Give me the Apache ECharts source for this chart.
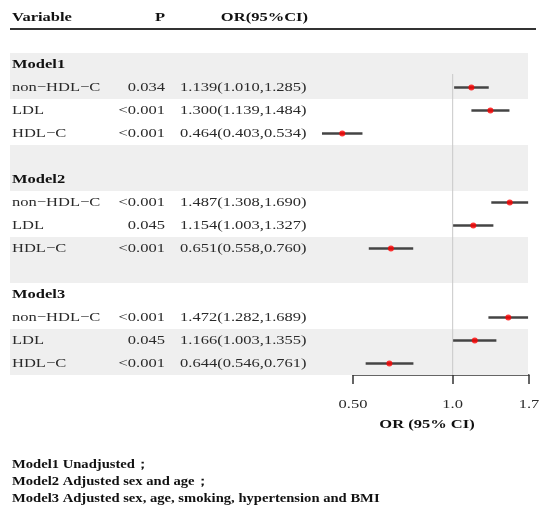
<!DOCTYPE html>
<html>
<head>
<meta charset="utf-8">
<script src="https://cdn.jsdelivr.net/npm/echarts@6/dist/echarts.min.js"></script>
<style>
html,body{margin:0;padding:0;background:#fff;}
#chart{width:541px;height:511px;}
</style>
</head>
<body>
<div id="chart"></div>
<script>
// ---- data ----
const models = ['Model1', 'Model2', 'Model3'];
const variables = ['non\u2212HDL\u2212C', 'LDL', 'HDL\u2212C'];
const pValues = [
  ['0.034', '<0.001', '<0.001'],
  ['<0.001', '0.045', '<0.001'],
  ['<0.001', '0.045', '<0.001']
];
const orValues = [
  [1.139, 1.300, 0.464],
  [1.487, 1.154, 0.651],
  [1.472, 1.166, 0.644]
];
const ciLower = [
  [1.010, 1.139, 0.403],
  [1.308, 1.003, 0.558],
  [1.282, 1.003, 0.546]
];
const ciUpper = [
  [1.285, 1.484, 0.534],
  [1.690, 1.327, 0.760],
  [1.689, 1.355, 0.761]
];
const tickValues = [0.5, 1.0, 1.7];
const tickLabels = ['0.50', '1.0', '1.7'];
const headers = ['Variable', 'P', 'OR(95%CI)'];
const footnotes = [
  'Model1 Unadjusted\uff1b',
  'Model2 Adjusted sex and age\uff1b',
  'Model3 Adjusted sex, age, smoking, hypertension and BMI'
];
const axisTitle = 'OR (95% CI)';

// ---- build rows ----
const rows = [];
rows.push({type: 'blank'});
models.forEach((m, mi) => {
  if (mi > 0) rows.push({type: 'blank'});
  rows.push({type: 'model', label: m});
  variables.forEach((v, vi) => {
    const o = orValues[mi][vi], l = ciLower[mi][vi], u = ciUpper[mi][vi];
    rows.push({type: 'var', label: v, p: pValues[mi][vi],
      ci: o.toFixed(3) + '(' + l.toFixed(3) + ',' + u.toFixed(3) + ')',
      or: o, lo: l, hi: u});
  });
});
const rowKeys = rows.map((r, i) => 'r' + i);
const shadedRows = [1, 2, 5, 6, 9, 10, 13, 14];

const FONT = '"Liberation Serif", "DejaVu Serif", serif';
const TXT = '#2a2a2a';
const SX = 1.27; // horizontal stretch of text in the reference

function txt(x, y, text, opts) {
  opts = opts || {};
  return {type: 'text', x: x, y: y, scaleX: SX, silent: true,
    style: {text: text, fontFamily: FONT, fontSize: opts.size || 13,
      fontWeight: opts.bold ? 'bold' : 'normal', fill: opts.fill || TXT,
      align: opts.align || 'left', verticalAlign: 'middle'}};
}

const ciData = [], ptData = [], textData = [];
rows.forEach((r, i) => {
  textData.push([0, i]);
  if (r.type === 'var') {
    ciData.push([r.lo, r.hi, i]);
    ptData.push([r.or, i]);
  }
});
const tickLabelData = tickValues.map((v, i) => [v, rows.length - 1, i]);

const chart = echarts.init(document.getElementById('chart'), null, {renderer: 'canvas'});

const option = {
  backgroundColor: '#fff',
  animation: false,
  grid: [
    {left: 10, right: 13, top: 30, height: 345},
    {left: 353, right: 12, top: 30, height: 345}
  ],
  xAxis: [
    {type: 'value', gridIndex: 0, min: 0, max: 1, show: false},
    {type: 'log', gridIndex: 1, min: 0.5, max: 1.7, logBase: 10,
      splitLine: {show: false},
      axisLine: {show: true, onZero: false, lineStyle: {color: '#333', width: 1.5}},
      axisTick: {show: true, length: 9, inside: false, customValues: tickValues,
        lineStyle: {color: '#333', width: 1.5}},
      axisLabel: {show: false}
    }
  ],
  yAxis: [
    {type: 'category', gridIndex: 0, data: rowKeys, inverse: true, show: false},
    {type: 'category', gridIndex: 1, data: rowKeys, inverse: true, show: false}
  ],
  graphic: [],
  series: [
    // shaded bands
    {
      type: 'custom', xAxisIndex: 0, yAxisIndex: 0, z: 1, silent: true,
      data: shadedRows.map(i => [0, i]),
      encode: {x: 0, y: 1},
      renderItem: function (params, api) {
        const p0 = api.coord([0, api.value(1)]);
        const p1 = api.coord([1, api.value(1)]);
        const h = api.size([0, 1])[1];
        return {type: 'rect', shape: {x: p0[0], y: p0[1] - h / 2, width: p1[0] - p0[0], height: h},
          style: {fill: '#efefef'}};
      }
    },
    // table text
    {
      type: 'custom', xAxisIndex: 0, yAxisIndex: 0, z: 5, silent: true,
      data: textData,
      encode: {x: 0, y: 1},
      renderItem: function (params, api) {
        const idx = api.value(1);
        const r = rows[idx];
        const p = api.coord([0, idx]);
        const x0 = p[0], y = p[1];
        const children = [];
        if (r.type === 'model') {
          children.push(txt(x0 + 2, y, r.label, {bold: true, fill: '#111'}));
        } else if (r.type === 'var') {
          children.push(txt(x0 + 2, y, r.label));
          children.push(txt(x0 + 155, y, r.p, {align: 'right'}));
          children.push(txt(x0 + 170, y, r.ci));
        }
        return {type: 'group', children: children};
      }
    },
    // reference line at 1
    {
      type: 'custom', xAxisIndex: 1, yAxisIndex: 1, z: 3, silent: true,
      data: [[1, 2]],
      encode: {x: 0, y: 1},
      renderItem: function (params, api) {
        const p = api.coord([api.value(0), api.value(1)]);
        const h = api.size([0, 1])[1];
        const bottom = api.coord([api.value(0), rows.length - 1])[1] + h / 2;
        return {type: 'line', shape: {x1: p[0], y1: p[1] - h / 2 - 2, x2: p[0], y2: bottom},
          style: {stroke: '#c8c8c8', lineWidth: 1}};
      }
    },
    // CI lines
    {
      type: 'custom', xAxisIndex: 1, yAxisIndex: 1, z: 6, silent: true, clip: false,
      data: ciData,
      encode: {x: [0, 1], y: 2},
      renderItem: function (params, api) {
        const a = api.coord([api.value(0), api.value(2)]);
        const b = api.coord([api.value(1), api.value(2)]);
        return {type: 'line', shape: {x1: a[0], y1: a[1], x2: b[0], y2: b[1]},
          style: {stroke: '#444', lineWidth: 2.5}};
      }
    },
    // point estimates
    {
      type: 'scatter', xAxisIndex: 1, yAxisIndex: 1, z: 8, silent: true, clip: false,
      symbol: 'circle', symbolSize: 6,
      itemStyle: {color: '#ff0000'},
      data: ptData
    },
    // tick labels
    {
      type: 'custom', xAxisIndex: 1, yAxisIndex: 1, z: 8, silent: true, clip: false,
      data: tickLabelData,
      encode: {x: 0, y: 1},
      renderItem: function (params, api) {
        const p = api.coord([api.value(0), api.value(1)]);
        const h = api.size([0, 1])[1];
        return txt(p[0], p[1] + h / 2 + 30, tickLabels[api.value(2)], {align: 'center'});
      }
    }
  ]
};

// header, rule, axis title, footnotes
option.graphic.push(txt(12, 18, headers[0], {bold: true, fill: '#111'}));
option.graphic.push(txt(165, 18, headers[1], {bold: true, fill: '#111', align: 'right'}));
option.graphic.push(txt(308, 18, headers[2], {bold: true, fill: '#111', align: 'right'}));
option.graphic.push({type: 'line', shape: {x1: 10, y1: 29, x2: 536, y2: 29},
  style: {stroke: '#333', lineWidth: 2}});
option.graphic.push(txt(427, 425, axisTitle, {bold: true, fill: '#111', align: 'center'}));
footnotes.forEach((t, i) => {
  option.graphic.push(txt(12, 465 + i * 17, t, {bold: true, fill: '#111', size: 11.5}));
});

chart.setOption(option);
</script>
</body>
</html>
